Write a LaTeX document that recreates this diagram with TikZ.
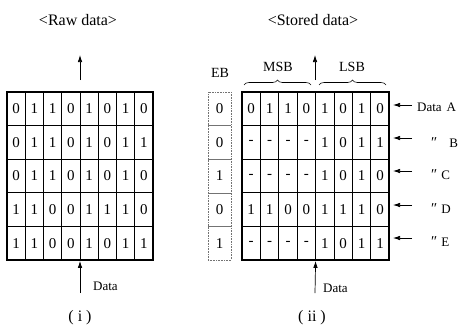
\documentclass[tikz,border=0pt]{standalone}
\usepackage{fontspec}
\setmainfont{Liberation Serif}
\usetikzlibrary{arrows.meta,decorations.pathreplacing}
\newcommand\digitfont{\fontsize{15}{15}\selectfont}
\newcommand\titlefont{\fontsize{16}{16}\selectfont}
\newcommand\labfont{\fontsize{13}{13}\selectfont}
\newcommand\hdfont{\fontsize{14}{14}\selectfont}
\newcommand\ditto{{\fontsize{15}{15}\selectfont\itshape ″}}
\tikzset{
  cellL/.style={minimum width=18.25pt, minimum height=33.6pt, inner sep=0pt, draw, line width=0.7pt, font=\digitfont},
  cellR/.style={minimum width=18.4pt, minimum height=33.6pt, inner sep=0pt, draw, line width=0.7pt, font=\digitfont},
  ebcell/.style={minimum width=23pt, minimum height=33.6pt, inner sep=0pt, draw=black!55, densely dotted, line width=0.6pt, font=\digitfont},
  frame/.style={draw, line width=1.8pt, inner sep=0pt},
  arr/.style={-{Latex[length=7pt,width=4.5pt]}, line width=0.7pt},
  txt/.style={inner sep=0pt},
  brc/.style={decorate, decoration={brace, amplitude=5pt}, line width=0.6pt}
}
\begin{document}
\begin{tikzpicture}[x=1pt,y=-1pt]
\useasboundingbox (0,0) rectangle (465,330);
% titles
\node[txt, font=\titlefont] (tRaw) at (78,20) {<Raw data>};
\node[txt, font=\titlefont] (tSto) at (313,20) {<Stored data>};
% left grid
\foreach \row [count=\r] in {{0,1,1,0,1,0,1,0},{0,1,1,0,1,0,1,1},{0,1,1,0,1,0,1,0},{1,1,0,0,1,1,1,0},{1,1,0,0,1,0,1,1}} {
  \foreach \v [count=\c] in \row {
    \node[cellL] (L-\r-\c) at ({7+18.25*(\c-0.5)},{92+33.6*(\r-0.5)}) {\v};
  }
}
\node[frame, minimum width=146pt, minimum height=168pt] (gridL) at (80,176) {};
% right grid
\foreach \row [count=\r] in {{0,1,1,0,1,0,1,0},{-,-,-,-,1,0,1,1},{-,-,-,-,1,0,1,0},{1,1,0,0,1,1,1,0},{-,-,-,-,1,0,1,1}} {
  \foreach \v [count=\c] in \row {
    \node[cellR] (R-\r-\c) at ({242+18.4*(\c-0.5)},{92+33.6*(\r-0.5)}) {\v};
  }
}
\node[frame, minimum width=147.2pt, minimum height=168pt] (gridR) at (315.6,176) {};
% EB column
\foreach \v [count=\r] in {0,0,1,0,1} {
  \node[ebcell] (EB-\r) at (219.5,{92+33.6*(\r-0.5)}) {\v};
}
\node[txt, font=\hdfont] (tEB) at (220,73) {EB};
% braces
\coordinate (msbL) at (244,85);
\coordinate (msbR) at (311,85);
\coordinate (lsbL) at (319,85);
\coordinate (lsbR) at (386,85);
\draw[brc] (msbL) -- (msbR);
\draw[brc] (lsbL) -- (lsbR);
\node[txt, font=\hdfont] (tMSB) at (278,67) {MSB};
\node[txt, font=\hdfont] (tLSB) at (352,67) {LSB};
% output arrows
\coordinate (Lout1) at (80,80);
\coordinate (Lout2) at (80,55);
\draw[arr] (Lout1) -- (Lout2);
\coordinate (Rout1) at (315,80);
\coordinate (Rout2) at (315,55);
\draw[arr] (Rout1) -- (Rout2);
% input arrows
\coordinate (Lin) at (80,293);
\draw[arr] (Lin) -- (gridL.south);
\node[txt, font=\labfont, anchor=west] (dL) at (93,286) {Data};
\coordinate (Rin) at (315,293);
\draw[arr] (Rin) -- (gridR.south);
\node[txt, font=\labfont, anchor=west] (dR) at (323,288) {Data};
% right-side data arrows and labels
\foreach \y/\lab [count=\r] in {105/A,138/B,171/C,205/D,238/E} {
  \coordinate (ds-\r) at (412,\y);
  \coordinate (de-\r) at (393,\y);
  \draw[arr] (ds-\r) -- (de-\r);
}
\node[txt, font=\labfont, anchor=west] (lA) at (417,107) {Data\hspace{5pt}A};
\node[txt, font=\labfont, anchor=west] (lB) at (430,143) {\ditto\hspace{13pt}B};
\node[txt, font=\labfont, anchor=west] (lC) at (430,175) {\ditto\hspace{5pt}C};
\node[txt, font=\labfont, anchor=west] (lD) at (430,209) {\ditto\hspace{5pt}D};
\node[txt, font=\labfont, anchor=west] (lE) at (430,242) {\ditto\hspace{5pt}E};
% captions
\node[txt, font=\titlefont] (capI) at (80,318) {( i )};
\node[txt, font=\titlefont] (capII) at (312,318) {( ii )};
\end{tikzpicture}
\end{document}
